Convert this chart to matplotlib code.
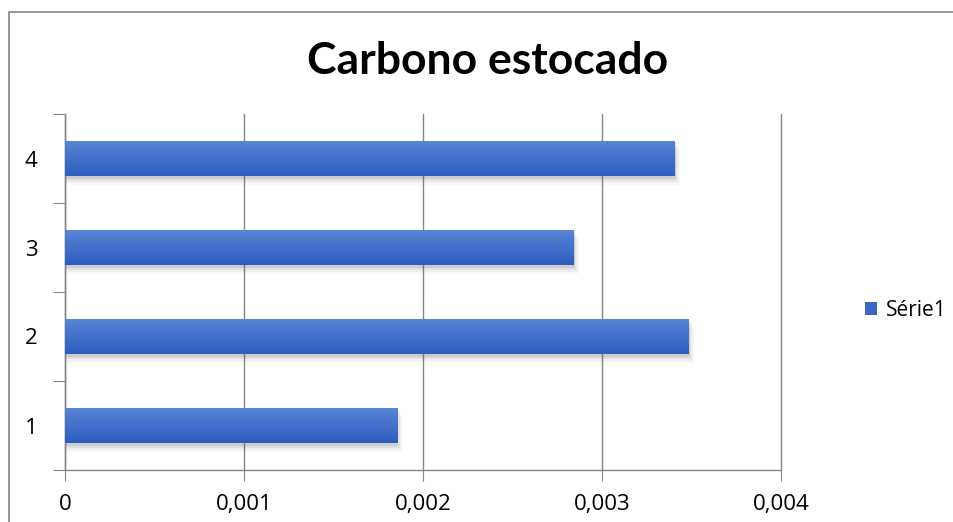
import numpy as np
import matplotlib.pyplot as plt
from matplotlib.patches import Rectangle, Patch
from matplotlib.ticker import FuncFormatter, FixedLocator

categories = ["1", "2", "3", "4"]
values = [0.001855, 0.003483, 0.002841, 0.003405]
series_name = "Série1"
title = "Carbono estocado"
x_ticks = [0, 0.001, 0.002, 0.003, 0.004]

BAR_TOP = "#5a86d6"
BAR_BOTTOM = "#2d5dc0"
GRID = "#868686"

plt.rcParams["font.family"] = ["Open Sans", "DejaVu Sans"]

fig = plt.figure(figsize=(9.54, 5.22), dpi=100)
ax = fig.add_axes([65 / 954, 52 / 522, 716 / 954, 356 / 522])

# outer chart frame, running off the right and bottom edges
fig.patches.append(Rectangle((9 / 954, -0.1), 1.2, (522 - 12) / 522 + 0.1,
                             transform=fig.transFigure, fill=False,
                             edgecolor="#8c8c8c", lw=1.3, zorder=0))

y = np.arange(1, len(categories) + 1)
bars = ax.barh(y, values, height=0.4, color=BAR_BOTTOM, zorder=3)

# vertical gradient inside each bar plus a soft drop shadow below it
grad = np.linspace(0, 1, 64).reshape(-1, 1)
cmap = plt.matplotlib.colors.LinearSegmentedColormap.from_list("bar", [BAR_TOP, BAR_BOTTOM])
for b in bars:
    x0, y0, w, h = b.get_x(), b.get_y(), b.get_width(), b.get_height()
    im = ax.imshow(grad, extent=(x0, x0 + w, y0, y0 + h), cmap=cmap,
                   aspect="auto", zorder=4, interpolation="bilinear")
    im.set_clip_path(b)
    for k, a in enumerate([0.12, 0.08, 0.05, 0.03]):
        dx = 0.000008 * (k + 1)
        dy = 0.025 * (k + 1)
        ax.add_patch(Rectangle((x0, y0 - dy), w + dx, h, facecolor="#404040",
                               edgecolor="none", alpha=a, zorder=2))

ax.set_xlim(0, 0.004)
ax.set_ylim(0.5, len(categories) + 0.5)

ax.xaxis.set_major_locator(FixedLocator(x_ticks))
ax.xaxis.set_major_formatter(FuncFormatter(
    lambda v, p: "0" if v == 0 else f"{v:.3f}".replace(".", ",")))
ax.grid(axis="x", color=GRID, lw=1, zorder=1)
for line in ax.get_xgridlines():
    line.set_clip_on(False)
ax.tick_params(axis="x", length=8, color=GRID, labelsize=16, pad=9)

ax.yaxis.set_major_locator(FixedLocator(np.arange(0.5, len(categories) + 1)))
ax.yaxis.set_major_formatter(FuncFormatter(lambda v, p: ""))
ax.yaxis.set_minor_locator(FixedLocator(y))
ax.set_yticklabels(categories, minor=True)
ax.tick_params(axis="y", which="major", length=9, color=GRID)
ax.tick_params(axis="y", which="minor", length=0, labelsize=16, pad=20)

for s in ["top", "right"]:
    ax.spines[s].set_visible(False)
for s in ["left", "bottom"]:
    ax.spines[s].set_color(GRID)
    ax.spines[s].set_linewidth(1)

fig.text(488 / 954, 1 - 61 / 522, title, ha="center", va="center",
         fontsize=32, fontweight="bold", family=["Lato", "DejaVu Sans"])

handle = Patch(facecolor="#3a66c6", edgecolor="none")
fig.legend([handle], [series_name], loc="center left",
           bbox_to_anchor=(846 / 954, 1 - 310 / 522), frameon=False,
           fontsize=15, handlelength=0.6, handleheight=0.6, handletextpad=0.4)

fig.savefig("out.png", dpi=100)
